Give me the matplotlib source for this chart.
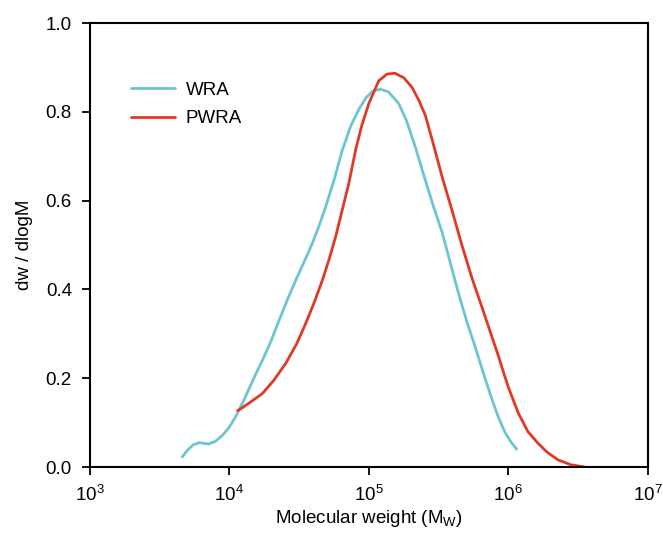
import numpy as np
import matplotlib.pyplot as plt

plt.rcParams.update({'font.size': 13.5, 'font.family': ['Liberation Sans', 'DejaVu Sans'],
                     'mathtext.fontset': 'custom', 'mathtext.rm': 'Liberation Sans',
                     'mathtext.it': 'Liberation Sans'})

# log10(M) and dw/dlogM
wra_logm = [3.662, 3.70, 3.74, 3.786, 3.82, 3.852, 3.90, 3.952, 4.0, 4.048, 4.10, 4.143,
            4.19, 4.238, 4.30, 4.357, 4.42, 4.476, 4.54, 4.595, 4.645, 4.69, 4.75, 4.81,
            4.87, 4.929, 4.98, 5.03, 5.083, 5.14, 5.214, 5.27, 5.333, 5.405, 5.46, 5.524,
            5.58, 5.643, 5.70, 5.762, 5.833, 5.88, 5.929, 5.976, 6.02, 6.06]
wra_y = [0.023, 0.038, 0.050, 0.055, 0.053, 0.052, 0.058, 0.072, 0.090, 0.115, 0.148, 0.178,
         0.210, 0.241, 0.285, 0.331, 0.380, 0.421, 0.465, 0.504, 0.545, 0.586, 0.646, 0.714,
         0.768, 0.806, 0.832, 0.847, 0.851, 0.845, 0.819, 0.780, 0.721, 0.646, 0.590, 0.530,
         0.465, 0.391, 0.330, 0.271, 0.200, 0.155, 0.112, 0.078, 0.056, 0.040]

pwra_logm = [4.059, 4.10, 4.15, 4.238, 4.32, 4.405, 4.48, 4.548, 4.61, 4.667, 4.715, 4.762,
             4.81, 4.857, 4.905, 4.95, 5.0, 5.071, 5.13, 5.186, 5.25, 5.31, 5.36, 5.405,
             5.46, 5.524, 5.59, 5.667, 5.74, 5.81, 5.87, 5.929, 5.964, 6.0, 6.071, 6.14,
             6.214, 6.28, 6.357, 6.45, 6.548]
pwra_y = [0.127, 0.135, 0.146, 0.166, 0.196, 0.234, 0.276, 0.324, 0.372, 0.421, 0.468, 0.519,
          0.580, 0.640, 0.714, 0.770, 0.819, 0.870, 0.885, 0.887, 0.877, 0.855, 0.825, 0.792,
          0.730, 0.655, 0.585, 0.500, 0.425, 0.361, 0.305, 0.250, 0.215, 0.180, 0.122, 0.080,
          0.053, 0.033, 0.016, 0.005, 0.0]

fig = plt.figure(figsize=(6.63, 5.36), dpi=100)
ax = fig.add_axes([0.1357, 0.1287, 0.8413, 0.8283])

ax.plot(10**np.array(wra_logm), wra_y, color='#6ec4d0', lw=2, label='WRA',
        solid_joinstyle='round', solid_capstyle='round')
ax.plot(10**np.array(pwra_logm), pwra_y, color='#e03a24', lw=2, label='PWRA',
        solid_joinstyle='round', solid_capstyle='round')

ax.set_xscale('log')
ax.set_xlim(1e3, 1e7)
ax.set_ylim(0, 1.0)
ax.set_yticks([0, 0.2, 0.4, 0.6, 0.8, 1.0])
ax.set_yticklabels(['0.0', '0.2', '0.4', '0.6', '0.8', '1.0'])
ax.minorticks_off()
ax.tick_params(direction='out', length=6, width=1.3, pad=7)
for s in ax.spines.values():
    s.set_linewidth(1.5)

ax.set_xlabel('Molecular weight (M$_\\mathrm{W}$)', labelpad=2)
ax.set_ylabel('dw / dlogM', labelpad=9)

ax.legend(frameon=False, loc='upper left', bbox_to_anchor=(0.044, 0.906),
          handlelength=2.3, labelspacing=0.6, handletextpad=0.6)

fig.savefig('out.png', dpi=100)
